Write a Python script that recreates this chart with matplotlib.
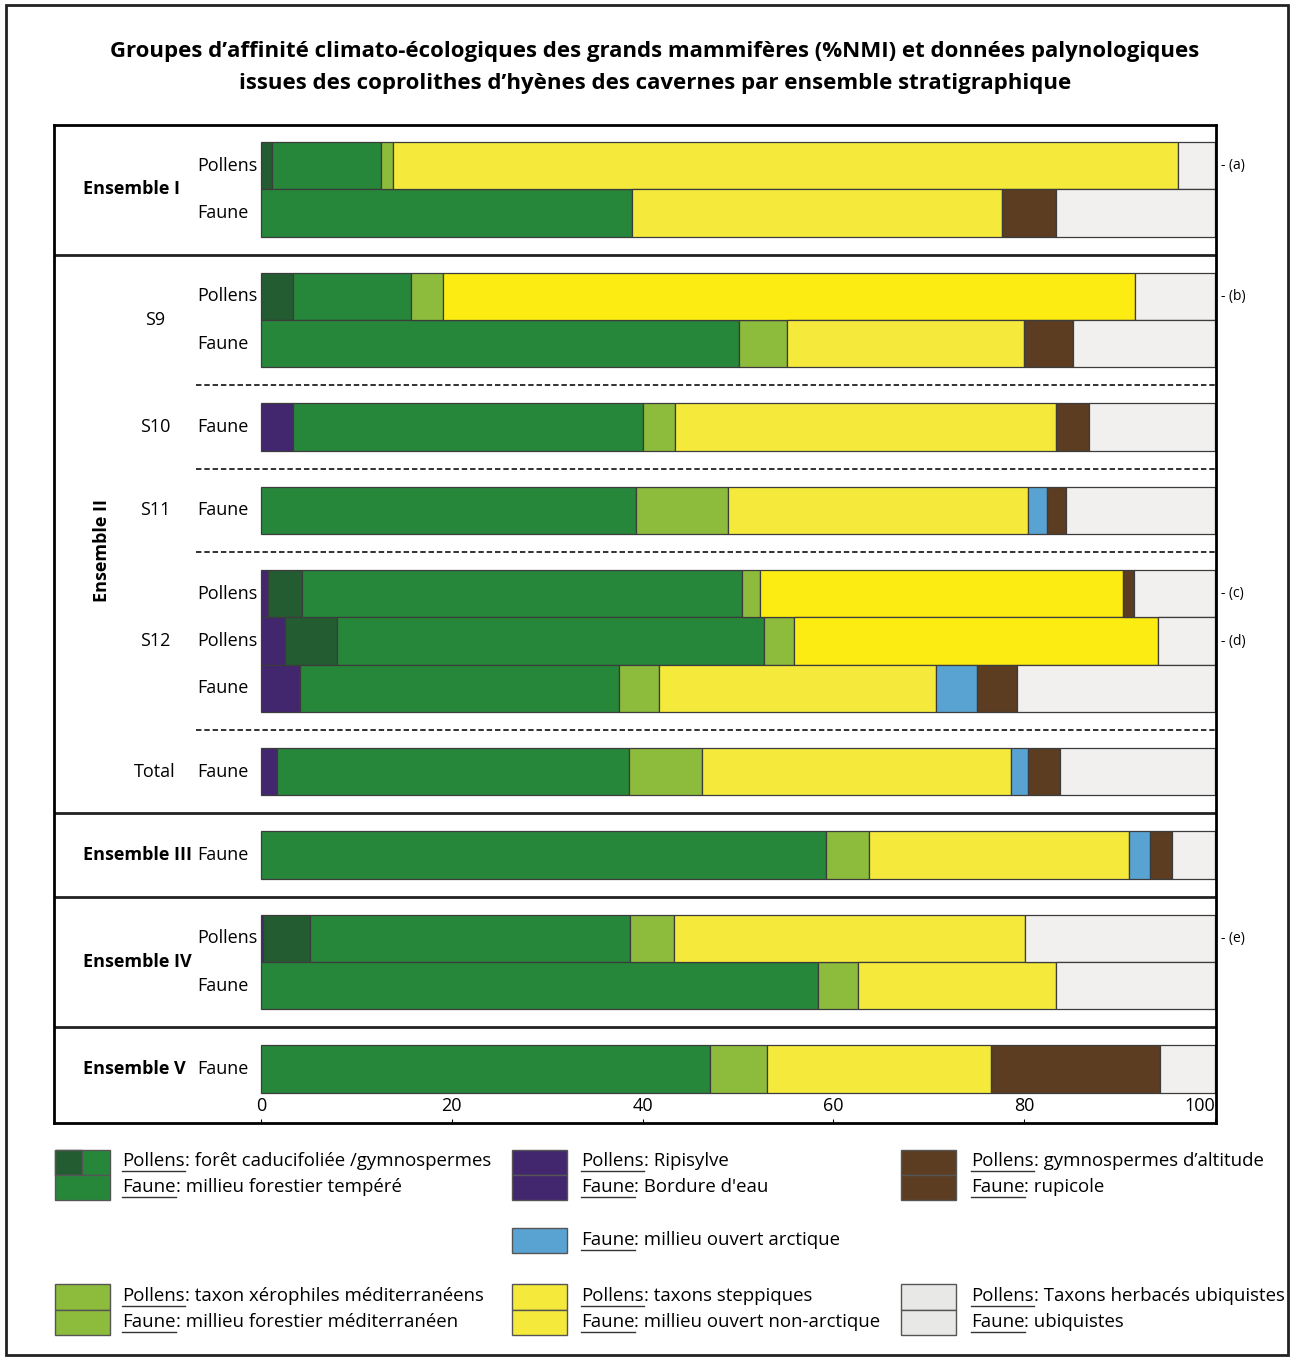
import matplotlib
matplotlib.use('Agg')
import matplotlib.pyplot as plt
from matplotlib.patches import Rectangle

plt.rcParams['font.family'] = ['Open Sans', 'DejaVu Sans']

# rows, top to bottom
row_kind = ['Pollens', 'Faune', 'Pollens', 'Faune', 'Faune', 'Faune', 'Pollens',
            'Pollens', 'Faune', 'Faune', 'Faune', 'Pollens', 'Faune', 'Faune']
row_block = [0, 0, 1, 1, 2, 3, 4, 4, 4, 5, 6, 7, 7, 8]
block_names = ['Ensemble I', 'S9', 'S10', 'S11', 'S12', 'Total',
               'Ensemble III', 'Ensemble IV', 'Ensemble V']
note_rows = [0, 2, 6, 7, 11]
note_text = ['(a)', '(b)', '(c)', '(d)', '(e)']

# % per group
ripisylve = [0, 0, 0, 0, 3.3, 0, 0.7, 2.5, 4.1, 1.7, 0, 0.2, 0, 0]
gymnosp = [1.2, 0, 3.4, 0, 0, 0, 3.6, 5.5, 0, 0, 0, 4.9, 0, 0]
foret = [11.4, 38.9, 12.3, 50.1, 36.7, 39.3, 46.1, 44.7, 33.4, 36.9, 59.2, 33.6, 58.4, 47.1]
mediter = [1.2, 0, 3.4, 5.0, 3.4, 9.7, 1.9, 3.2, 4.2, 7.6, 4.5, 4.6, 4.2, 5.9]
steppe = [82.3, 38.8, 72.5, 24.9, 39.9, 31.4, 38.0, 38.1, 29.1, 32.4, 27.3, 36.8, 20.7, 23.5]
arctique = [0, 0, 0, 0, 0, 2.0, 0, 0, 4.2, 1.8, 2.2, 0, 0, 0]
rupicole = [0, 5.6, 0, 5.1, 3.5, 2.0, 1.2, 0, 4.2, 3.4, 2.3, 0, 0, 17.7]
ubiquiste = [3.9, 16.7, 8.4, 14.9, 13.2, 15.6, 8.5, 6.0, 20.8, 16.2, 4.5, 19.9, 16.7, 5.8]

series = [ripisylve, gymnosp, foret, mediter, steppe, arctique, rupicole, ubiquiste]
c_purple = '#42276f'
c_dkgreen = '#245c31'
c_green = '#26873a'
c_ltgreen = '#8dbb3b'
c_yellow = '#f5ea3b'
c_yellow2 = '#fdec12'
c_blue = '#59a3d2'
c_brown = '#5c3d22'
c_grey = '#f1f0ee'
colors = [c_purple, c_dkgreen, c_green, c_ltgreen, c_yellow, c_blue, c_brown, c_grey]
bright_rows = [2, 6, 7]

W, H = 1291, 1358
fig = plt.figure(figsize=(W / 100, H / 100), dpi=100)
ax = fig.add_axes([54 / W, 1 - 1123 / H, (1216 - 54) / W, (1123 - 125) / H])

# vertical layout
gap, top, bottom = 0.76, 0.36, 0.64
ys, seps = [], []
y = top
for i in range(len(row_kind)):
    if i > 0 and row_block[i] != row_block[i - 1]:
        seps.append((y + gap / 2, row_block[i - 1]))
        y += gap
    ys.append(y + 0.5)
    y += 1
ax.set_ylim(y + bottom, 0)
ax.set_xlim(-21.7, 100.1)

left = [0] * len(ys)
for k, vals in enumerate(series):
    idx = [i for i, v in enumerate(vals) if v > 0]
    cols = [colors[k]] * len(idx)
    if k == 4:
        cols = [c_yellow2 if i in bright_rows else c_yellow for i in idx]
    ax.barh([ys[i] for i in idx], [vals[i] for i in idx], left=[left[i] for i in idx],
            height=1.0, color=cols, edgecolor='#3c3c3c', linewidth=0.9)
    left = [l + v for l, v in zip(left, vals)]

for s, b in seps:
    if b in (0, 5, 6, 7):
        ax.axhline(s, color='#222222', lw=2)
    else:
        ax.plot([-6.8, 100.1], [s, s], color='#222222', lw=1.3, ls=(0, (3, 1.6)))

fs = 13
for i, k in enumerate(row_kind):
    ax.text(-6.7, ys[i], k, ha='left', va='center', fontsize=fs)
for b, name in enumerate(block_names):
    yy = [ys[i] for i in range(len(ys)) if row_block[i] == b]
    yc = sum(yy) / len(yy)
    if name.startswith('Ensemble'):
        ax.text(-18.7, yc, name, ha='left', va='center', fontsize=fs, fontweight='bold')
    else:
        ax.text(-11.1, yc, name, ha='center', va='center', fontsize=fs)
y2 = [ys[i] for i in range(len(ys)) if 1 <= row_block[i] <= 5]
ax.text(-16.7, (y2[0] + y2[-1]) / 2 + 0.35, 'Ensemble II', ha='center', va='center',
        rotation=90, fontsize=fs, fontweight='bold')
for r, t in zip(note_rows, note_text):
    ax.text(100.6, ys[r], '- ' + t, ha='left', va='center', fontsize=10, clip_on=False)

ax.set_yticks([])
ax.set_xticks([0, 20, 40, 60, 80, 100])
ax.tick_params(axis='x', direction='in', length=3, pad=-19, labelsize=13)
ax.get_xticklabels()[-1].set_ha('right')
for sp in ax.spines.values():
    sp.set_linewidth(2)

# overlay in pixel coordinates: title, legend, frame
ov = fig.add_axes([0, 0, 1, 1], zorder=5)
ov.set_xlim(0, W)
ov.set_ylim(H, 0)
ov.axis('off')
ov.patch.set_alpha(0)
ov.add_patch(Rectangle((6, 5), 1282, 1350, fill=False, lw=2, ec='#222222'))
ov.text(655, 52, "Groupes d\u2019affinité climato-écologiques des grands mammifères (%NMI) et données palynologiques",
        ha='center', va='center', fontsize=16, fontweight='bold')
ov.text(655, 84, "issues des coprolithes d\u2019hyènes des cavernes par ensemble stratigraphique",
        ha='center', va='center', fontsize=16, fontweight='bold')

renderer = fig.canvas.get_renderer()
lfs = 13.4


def legend_line(x, y, word, rest):
    t = ov.text(x, y, word, ha='left', va='center', fontsize=lfs)
    bb = t.get_window_extent(renderer)
    ov.text(bb.x1, y, rest, ha='left', va='center', fontsize=lfs)
    ov.plot([bb.x0, bb.x1], [y + 10, y + 10], color='#333333', lw=1)


def swatch(x, y0, y1, c_top, c_bot, c_half=None):
    h = (y1 - y0) / 2
    ov.add_patch(Rectangle((x, y0), 55, h, fc=c_top, ec='#555555', lw=1))
    if c_half:
        ov.add_patch(Rectangle((x, y0), 27, h, fc=c_half, ec='#555555', lw=1))
    ov.add_patch(Rectangle((x, y0 + h), 55, h, fc=c_bot, ec='#555555', lw=1))


swatch(55, 1150, 1200, c_green, c_green, c_dkgreen)
legend_line(122, 1161, 'Pollens', ': forêt caducifoliée /gymnospermes')
legend_line(122, 1187, 'Faune', ': millieu forestier tempéré')
swatch(512, 1150, 1200, c_purple, c_purple)
legend_line(581, 1161, 'Pollens', ': Ripisylve')
legend_line(581, 1187, 'Faune', ": Bordure d'eau")
swatch(901, 1150, 1200, c_brown, c_brown)
legend_line(971, 1161, 'Pollens', ': gymnospermes d\u2019altitude')
legend_line(971, 1187, 'Faune', ': rupicole')
ov.add_patch(Rectangle((512, 1228), 55, 25, fc=c_blue, ec='#555555', lw=1))
legend_line(581, 1240, 'Faune', ': millieu ouvert arctique')
swatch(55, 1284, 1335, c_ltgreen, c_ltgreen)
legend_line(122, 1296, 'Pollens', ': taxon xérophiles méditerranéens')
legend_line(122, 1322, 'Faune', ': millieu forestier méditerranéen')
swatch(512, 1284, 1335, c_yellow, c_yellow)
legend_line(581, 1296, 'Pollens', ': taxons steppiques')
legend_line(581, 1322, 'Faune', ': millieu ouvert non-arctique')
swatch(901, 1284, 1335, '#e8e8e6', '#e8e8e6')
legend_line(971, 1296, 'Pollens', ': Taxons herbacés ubiquistes')
legend_line(971, 1322, 'Faune', ': ubiquistes')

fig.savefig('out.png', dpi=100)
